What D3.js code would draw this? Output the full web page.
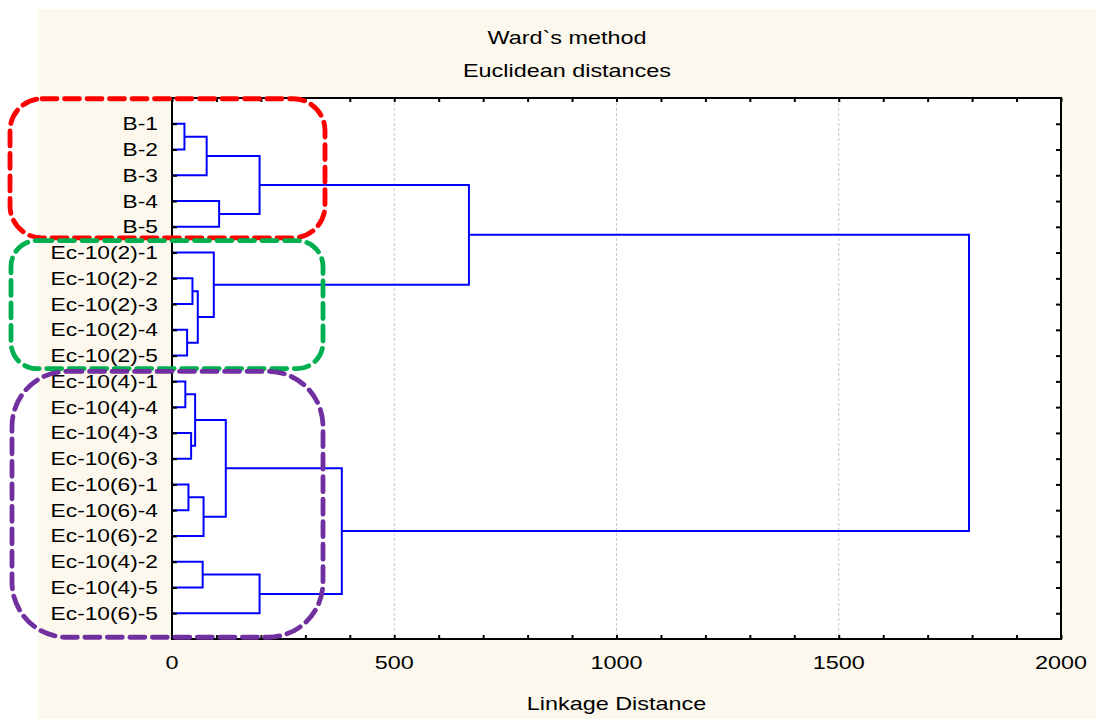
<!DOCTYPE html>
<html>
<head>
<meta charset="utf-8">
<script src="https://cdn.jsdelivr.net/npm/d3@7"></script>
<style>
  html, body { margin: 0; padding: 0; background: #ffffff; }
  svg { display: block; font-family: "Liberation Sans", Arial, sans-serif; }
</style>
</head>
<body>
<svg id="chart" width="1096" height="719"></svg>
<script>
// Leaf order along the vertical axis (top to bottom)
const leaves = [
  "B-1", "B-2", "B-3", "B-4", "B-5",
  "Ec-10(2)-1", "Ec-10(2)-2", "Ec-10(2)-3", "Ec-10(2)-4", "Ec-10(2)-5",
  "Ec-10(4)-1", "Ec-10(4)-4", "Ec-10(4)-3", "Ec-10(6)-3", "Ec-10(6)-1",
  "Ec-10(6)-4", "Ec-10(6)-2", "Ec-10(4)-2", "Ec-10(4)-5", "Ec-10(6)-5"
];

// Agglomeration steps: [left child, right child, linkage distance]
// children are leaf names or "m<k>" referring to the k-th merge
const merges = [
  ["B-1", "B-2", 28],
  ["m0", "B-3", 78],
  ["B-4", "B-5", 106],
  ["m1", "m2", 197],
  ["Ec-10(2)-4", "Ec-10(2)-5", 34],
  ["Ec-10(2)-2", "Ec-10(2)-3", 46],
  ["m5", "m4", 58],
  ["Ec-10(2)-1", "m6", 94],
  ["m3", "m7", 668],
  ["Ec-10(4)-1", "Ec-10(4)-4", 30],
  ["Ec-10(4)-3", "Ec-10(6)-3", 43],
  ["m9", "m10", 52],
  ["Ec-10(6)-1", "Ec-10(6)-4", 37],
  ["m12", "Ec-10(6)-2", 71],
  ["m11", "m13", 121],
  ["Ec-10(4)-2", "Ec-10(4)-5", 69],
  ["m15", "Ec-10(6)-5", 197],
  ["m14", "m16", 382],
  ["m8", "m17", 1793]
];

const xTickValues = [0, 500, 1000, 1500, 2000];
const xMinorTicks = d3.range(0, 2001, 100);
const titleLines = ["Ward`s method", "Euclidean distances"];
const xTitle = "Linkage Distance";

// Highlight groups: first and last leaf covered by each rounded frame
const groupFirst = ["B-1", "Ec-10(2)-1", "Ec-10(4)-1"];
const groupLast  = ["B-5", "Ec-10(2)-5", "Ec-10(6)-5"];
const groupColors = ["#ff0000", "#00b050", "#7030a0"];

const svg = d3.select("#chart");
const W = 1096, H = 719;
const plot = { left: 172, right: 1061, top: 98, bottom: 639 };
const STRETCH = 1.3; // horizontal widening of all lettering

const x = d3.scaleLinear().domain([0, 2000]).range([plot.left, plot.right]);
const y = d3.scalePoint().domain(leaves).range([plot.top, plot.bottom]).padding(1);

// cream panel
svg.append("rect").attr("x", 38).attr("y", 9).attr("width", W - 38).attr("height", H - 9)
  .attr("fill", "#fdf8ee");
// plotting area
svg.append("rect").attr("x", plot.left).attr("y", plot.top)
  .attr("width", plot.right - plot.left).attr("height", plot.bottom - plot.top)
  .attr("fill", "#ffffff");

// vertical grid lines
svg.append("g").selectAll("line").data(xTickValues.filter(d => d > 0 && d < 2000)).join("line")
  .attr("x1", d => x(d)).attr("x2", d => x(d))
  .attr("y1", plot.top).attr("y2", plot.bottom)
  .attr("stroke", "#c8c8c8").attr("stroke-width", 1).attr("stroke-dasharray", "3,2");

// dendrogram
const pos = {};
leaves.forEach(l => { pos[l] = { h: 0, y: y(l) }; });
const dendro = svg.append("g").attr("fill", "none").attr("stroke", "#0000ff")
  .attr("stroke-width", 2).attr("stroke-linejoin", "miter");
merges.forEach((m, i) => {
  const a = pos[m[0]], b = pos[m[1]], h = m[2];
  const p = d3.path();
  p.moveTo(x(a.h), a.y);
  p.lineTo(x(h), a.y);
  p.lineTo(x(h), b.y);
  p.lineTo(x(b.h), b.y);
  dendro.append("path").attr("d", p.toString());
  pos["m" + i] = { h: h, y: (a.y + b.y) / 2 };
});

// frame
svg.append("rect").attr("x", plot.left).attr("y", plot.top)
  .attr("width", plot.right - plot.left).attr("height", plot.bottom - plot.top)
  .attr("fill", "none").attr("stroke", "#000").attr("stroke-width", 2);

// axes with inward ticks
const bottomAxis = svg.append("g").attr("transform", `translate(0,${plot.bottom})`)
  .call(d3.axisBottom(x).tickValues(xMinorTicks).tickSize(-4).tickFormat(""));
const topAxis = svg.append("g").attr("transform", `translate(0,${plot.top})`)
  .call(d3.axisTop(x).tickValues(xMinorTicks).tickSize(-4).tickFormat(""));
const leftAxis = svg.append("g").attr("transform", `translate(${plot.left},0)`)
  .call(d3.axisLeft(y).tickSize(-5).tickFormat(""));
const rightAxis = svg.append("g").attr("transform", `translate(${plot.right},0)`)
  .call(d3.axisRight(y).tickSize(-5).tickFormat(""));
[bottomAxis, topAxis, leftAxis, rightAxis].forEach(g => {
  g.select(".domain").remove();
  g.selectAll(".tick line").attr("stroke", "#000").attr("stroke-width", 2);
});

// x tick labels
svg.append("g").selectAll("text").data(xTickValues).join("text")
  .attr("transform", d => `translate(${x(d)},${plot.bottom + 29.5}) scale(${STRETCH},1)`)
  .attr("text-anchor", "middle").attr("font-size", 18).attr("fill", "#000")
  .text(d => d);

// leaf labels
svg.append("g").selectAll("text").data(leaves).join("text")
  .attr("transform", d => `translate(${plot.left - 14},${y(d) + 6.5}) scale(${STRETCH},1)`)
  .attr("text-anchor", "end").attr("font-size", 17.5).attr("fill", "#000")
  .text(d => d);

// titles
svg.append("g").selectAll("text").data(titleLines).join("text")
  .attr("transform", (d, i) => `translate(${(38 + W) / 2},${43.5 + i * 33}) scale(${STRETCH},1)`)
  .attr("text-anchor", "middle").attr("font-size", 18).attr("fill", "#000")
  .text(d => d);
svg.append("text")
  .attr("transform", `translate(${(plot.left + plot.right) / 2},${709.5}) scale(${STRETCH},1)`)
  .attr("text-anchor", "middle").attr("font-size", 18).attr("fill", "#000")
  .text(xTitle);

// rounded dashed frames around the three groups
const frameBox = [
  { x0: 10, x1: 325, pad: [25, 11], r: 32 },
  { x0: 11, x1: 323, pad: [12, 13], r: 26 },
  { x0: 12, x1: 323, pad: [10, 24], r: 55 }
];
groupFirst.forEach((f, i) => {
  const b = frameBox[i];
  const y0 = y(f) - b.pad[0], y1 = y(groupLast[i]) + b.pad[1];
  svg.append("rect")
    .attr("x", b.x0).attr("y", y0).attr("width", b.x1 - b.x0).attr("height", y1 - y0)
    .attr("rx", b.r).attr("ry", b.r)
    .attr("fill", "none").attr("stroke", groupColors[i]).attr("stroke-width", 4.8)
    .attr("stroke-linecap", "round").attr("stroke-dasharray", "15,7.5");
});
</script>
</body>
</html>
